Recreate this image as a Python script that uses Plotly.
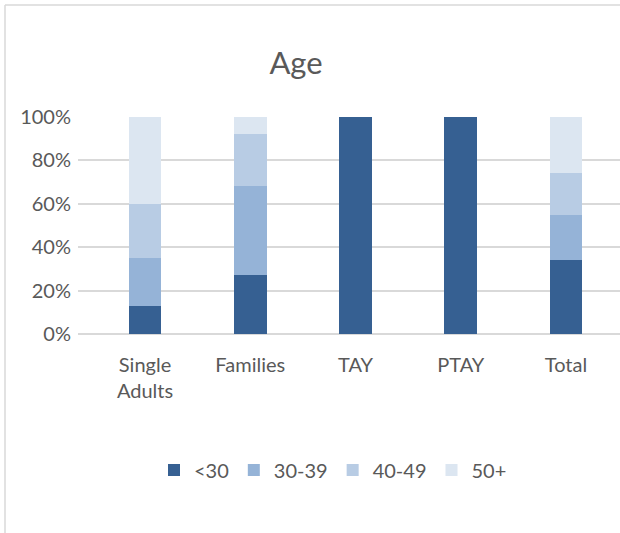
import plotly.graph_objects as go

categories = ["Single<br>Adults", "Families", "TAY", "PTAY", "Total"]
series_names = ["<30", "30-39", "40-49", "50+"]
under30 = [13, 27, 100, 100, 34]
age30_39 = [22, 41, 0, 0, 21]
age40_49 = [25, 24, 0, 0, 19]
age50p = [40, 8, 0, 0, 26]
colors = ["#366092", "#95B3D7", "#B8CCE4", "#DCE6F1"]

values = [under30, age30_39, age40_49, age50p]
font_family = "Lato, Open Sans, sans-serif"
txt = "#595959"

fig = go.Figure()
for name, vals, col in zip(series_names, values, colors):
    fig.add_trace(go.Bar(
        x=list(range(len(categories))), y=[v / 100 for v in vals], name=name,
        marker=dict(color=col, line=dict(width=0)), width=0.31,
    ))

fig.update_layout(
    barmode="stack",
    width=620, height=533,
    margin=dict(l=78, r=0, t=117, b=199),
    paper_bgcolor="white", plot_bgcolor="white",
    font=dict(family=font_family, color=txt, size=20),
    title=dict(text="Age", x=296/620, xref="container", xanchor="center",
               y=1 - 63/533, yref="container", yanchor="middle",
               font=dict(size=31, color=txt, family=font_family)),
    xaxis=dict(tickmode="array", tickvals=list(range(len(categories))), ticktext=categories,
               range=[-0.637, 4.513], showgrid=False, zeroline=False, showline=False,
               ticks="", ticklabelstandoff=17, tickfont=dict(size=20, color=txt)),
    yaxis=dict(range=[0, 1], tickvals=[0, 0.2, 0.4, 0.6, 0.8, 1.0], tickformat=".0%",
               showgrid=True, gridcolor="#D9D9D9", gridwidth=1.5, zeroline=True,
               zerolinecolor="#D9D9D9", zerolinewidth=1.5, showline=False, ticks="",
               ticklabelstandoff=6, tickfont=dict(size=20, color=txt)),
    legend=dict(orientation="h", xref="container", yref="container",
                x=333/620, xanchor="center", y=1 - 470/533, yanchor="middle",
                font=dict(size=20, color=txt), traceorder="normal",
                itemwidth=30, itemclick=False),
    showlegend=True,
    shapes=[
        dict(type="line", xref="paper", yref="paper",
             x0=(5 - 78) / 542, x1=1.0, y0=(334 - 5) / 217, y1=(334 - 5) / 217,
             line=dict(color="#D9D9D9", width=1.5), layer="below"),
        dict(type="line", xref="paper", yref="paper",
             x0=(5 - 78) / 542, x1=(5 - 78) / 542, y0=(334 - 533) / 217, y1=(334 - 5) / 217,
             line=dict(color="#D9D9D9", width=1.5), layer="below"),
    ],
)

fig.write_html("out.html", config={"displayModeBar": False})
